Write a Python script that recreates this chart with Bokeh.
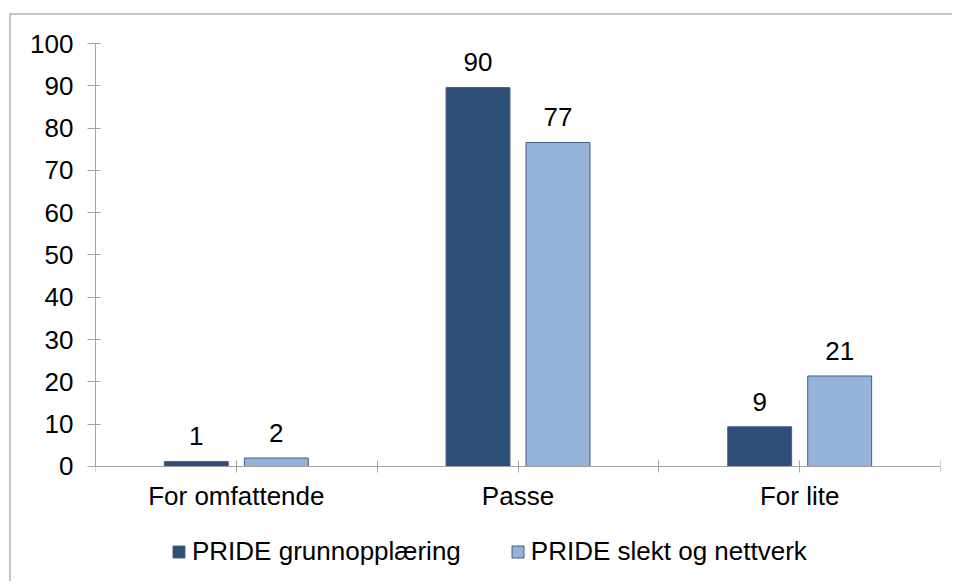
from bokeh.plotting import figure
from bokeh.models import ColumnDataSource, LabelSet, Legend, LegendItem, FixedTicker
from bokeh.core.properties import value
from bokeh.transform import dodge
from bokeh.embed import file_html
from bokeh.resources import INLINE

categories = ["For omfattende", "Passe", "For lite"]
series_names = ["PRIDE grunnopplæring", "PRIDE slekt og nettverk"]
grunn = [1.2, 89.6, 9.4]
slekt = [2.0, 76.6, 21.4]
y_ticks = [0, 10, 20, 30, 40, 50, 60, 70, 80, 90, 100]

FONT = "Liberation Sans"
FS = "26px"
DARK = "#2D4E76"
LIGHT = "#95B3D7"
AXIS = "#A3A3A3"

centers = [i + 0.5 for i in range(len(categories))]
src = ColumnDataSource(dict(
    x=centers,
    grunn=grunn,
    slekt=slekt,
    grunn_lab=[str(int(round(v))) for v in grunn],
    slekt_lab=[str(int(round(v))) for v in slekt],
))

# the frame extends below 0 so that category labels and legend sit inside it
p = figure(width=943, height=568, output_backend="svg", toolbar_location=None,
           x_range=(0, len(categories)), y_range=(-27.66, 100),
           min_border_left=84, min_border_right=14, min_border_top=28, min_border_bottom=0)
p.margin = (13, 0, 0, 9)
p.styles = {"border-top": "2px solid #C4C4C4", "border-left": "2px solid #C4C4C4"}
p.outline_line_color = None
p.xgrid.visible = False
p.ygrid.visible = False
p.background_fill_color = "white"
p.border_fill_color = "white"

W = 0.227
r1 = p.vbar(x=dodge("x", -0.142), top="grunn", width=W, source=src,
            fill_color=DARK, line_color="#4A6384", line_width=1)
r2 = p.vbar(x=dodge("x", 0.142), top="slekt", width=W, source=src,
            fill_color=LIGHT, line_color="#3E5E8A", line_width=1)

for col, off in (("grunn", -0.142), ("slekt", 0.142)):
    p.add_layout(LabelSet(x=dodge("x", off), y=col, text=col + "_lab", source=src,
                          text_align="center", text_baseline="alphabetic", y_offset=16,
                          text_font=value(FONT), text_font_size=value(FS),
                          text_color="black"))

# y axis
p.yaxis.ticker = FixedTicker(ticks=y_ticks)
p.yaxis.bounds = (0, 100)
p.yaxis.axis_line_color = AXIS
p.yaxis.major_tick_line_color = AXIS
p.yaxis.major_tick_in = 5
p.yaxis.major_tick_out = 8
p.yaxis.minor_tick_line_color = None
p.yaxis.major_label_text_font = FONT
p.yaxis.major_label_text_font_size = FS
p.yaxis.major_label_text_color = "black"
p.yaxis.major_label_standoff = 14

# x axis at y = 0: ticks at category boundaries and centres, labels at centres
bounds = list(range(len(categories) + 1))
p.xaxis.fixed_location = 0
p.xaxis.ticker = FixedTicker(ticks=sorted(bounds + centers))
overrides = {b: "" for b in bounds}
overrides.update({c: name for c, name in zip(centers, categories)})
p.xaxis.major_label_overrides = overrides
p.xaxis.axis_line_color = AXIS
p.xaxis.major_tick_line_color = AXIS
p.xaxis.major_tick_in = 6
p.xaxis.major_tick_out = 6
p.xaxis.minor_tick_line_color = None
p.xaxis.major_label_text_font = FONT
p.xaxis.major_label_text_font_size = FS
p.xaxis.major_label_text_color = "black"
p.xaxis.major_label_standoff = 9

legend = Legend(items=[LegendItem(label=series_names[0], renderers=[r1]),
                       LegendItem(label=series_names[1], renderers=[r2])],
                orientation="horizontal", location=(76, 16),
                glyph_width=15, glyph_height=15, label_standoff=6, spacing=49,
                padding=0, margin=0, border_line_color=None, background_fill_alpha=0,
                label_text_font=FONT, label_text_font_size=FS, label_text_color="black")
p.add_layout(legend, "center")

open("out.html", "w").write(file_html(p, INLINE))
